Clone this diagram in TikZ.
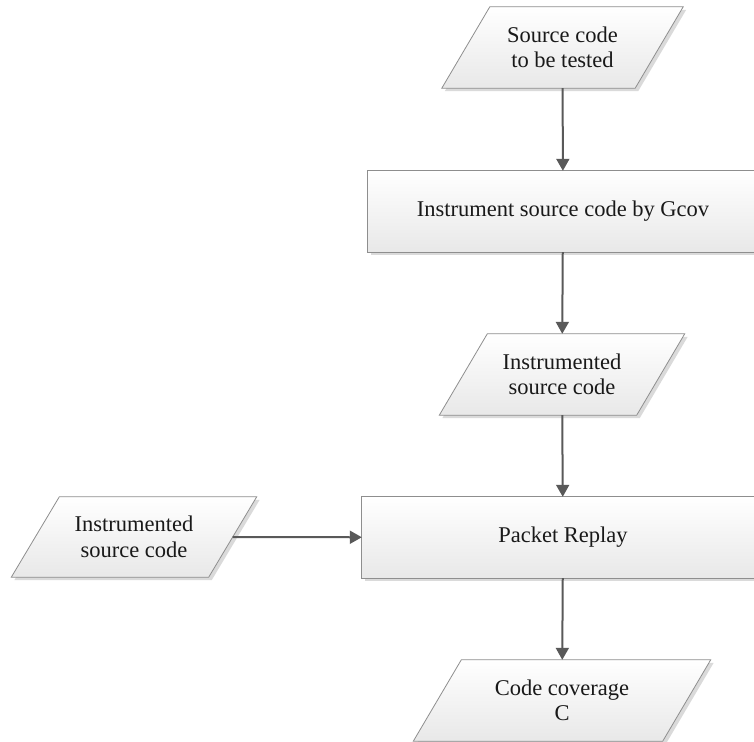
\documentclass[tikz,border=0pt]{standalone}
\usepackage{fontspec}
\setmainfont{Liberation Serif}
\usetikzlibrary{arrows.meta,backgrounds}

\definecolor{edgegray}{HTML}{8E8E8E}
\definecolor{arrowgray}{HTML}{595959}
\definecolor{fillbot}{HTML}{E8E8E8}
\definecolor{shadowgray}{HTML}{DADADA}

% parallelogram drawn around a (borderless) label node, with a soft offset shadow
\newcommand{\paraoutline}[2]{%
  \fill[shadowgray] ([xshift=#2+3pt,yshift=-3pt]#1.north west) -- ([xshift=#2+3pt,yshift=-3pt]#1.north east)
    -- ([xshift=-#2+3pt,yshift=-3pt]#1.south east) -- ([xshift=-#2+3pt,yshift=-3pt]#1.south west) -- cycle;
  \draw[boxshape] ([xshift=#2]#1.north west) -- ([xshift=#2]#1.north east)
    -- ([xshift=-#2]#1.south east) -- ([xshift=-#2]#1.south west) -- cycle;}
% rectangle around a label node, with the same shadow
\newcommand{\rectoutline}[1]{%
  \fill[shadowgray] ([xshift=3pt,yshift=-3pt]#1.south west) rectangle ([xshift=3pt,yshift=-3pt]#1.north east);
  \draw[boxshape] (#1.south west) rectangle (#1.north east);}

\begin{document}
\begin{tikzpicture}[x=1pt,y=1pt,
  lbl/.style={inner sep=0pt, minimum height=81pt, align=center,
    font=\fontsize{22.5}{25.5}\selectfont, text=black!90},
  boxshape/.style={draw=edgegray, line width=0.8pt, top color=white, bottom color=fillbot},
  flow/.style={draw=arrowgray, line width=2pt, -{Triangle[length=12pt,width=13pt]}}]
\useasboundingbox (0,0) rectangle (754,741);

% label nodes
\node[lbl, minimum width=193pt] (src)   at (562.5,693.5) {Source code\\to be tested};
\node[lbl, minimum width=390pt] (gcov)  at (563,529.5)   {Instrument source code by Gcov};
\node[lbl, minimum width=197pt] (instr) at (562,366.5)   {Instrumented\\source code};
\node[lbl, minimum width=197pt, minimum height=80pt] (side) at (134,204) {Instrumented\\source code};
\node[lbl, minimum width=402pt] (replay) at (563,203.5)  {Packet Replay};
\node[lbl, minimum width=249pt] (cov)   at (562,40.5)    {Code coverage\\C};

% shapes behind the labels
\begin{scope}[on background layer]
  \clip (0,0) rectangle (754,741);
  \paraoutline{src}{24pt}
  \rectoutline{gcov}
  \paraoutline{instr}{24pt}
  \paraoutline{side}{24pt}
  \rectoutline{replay}
  \paraoutline{cov}{24pt}
\end{scope}

% connectors
\draw[flow] (src) -- (gcov);
\draw[flow] (gcov) -- (instr);
\draw[flow] (instr) -- (replay);
\draw[flow] (side) -- (replay);
\draw[flow] (replay) -- (cov);
\end{tikzpicture}
\end{document}
